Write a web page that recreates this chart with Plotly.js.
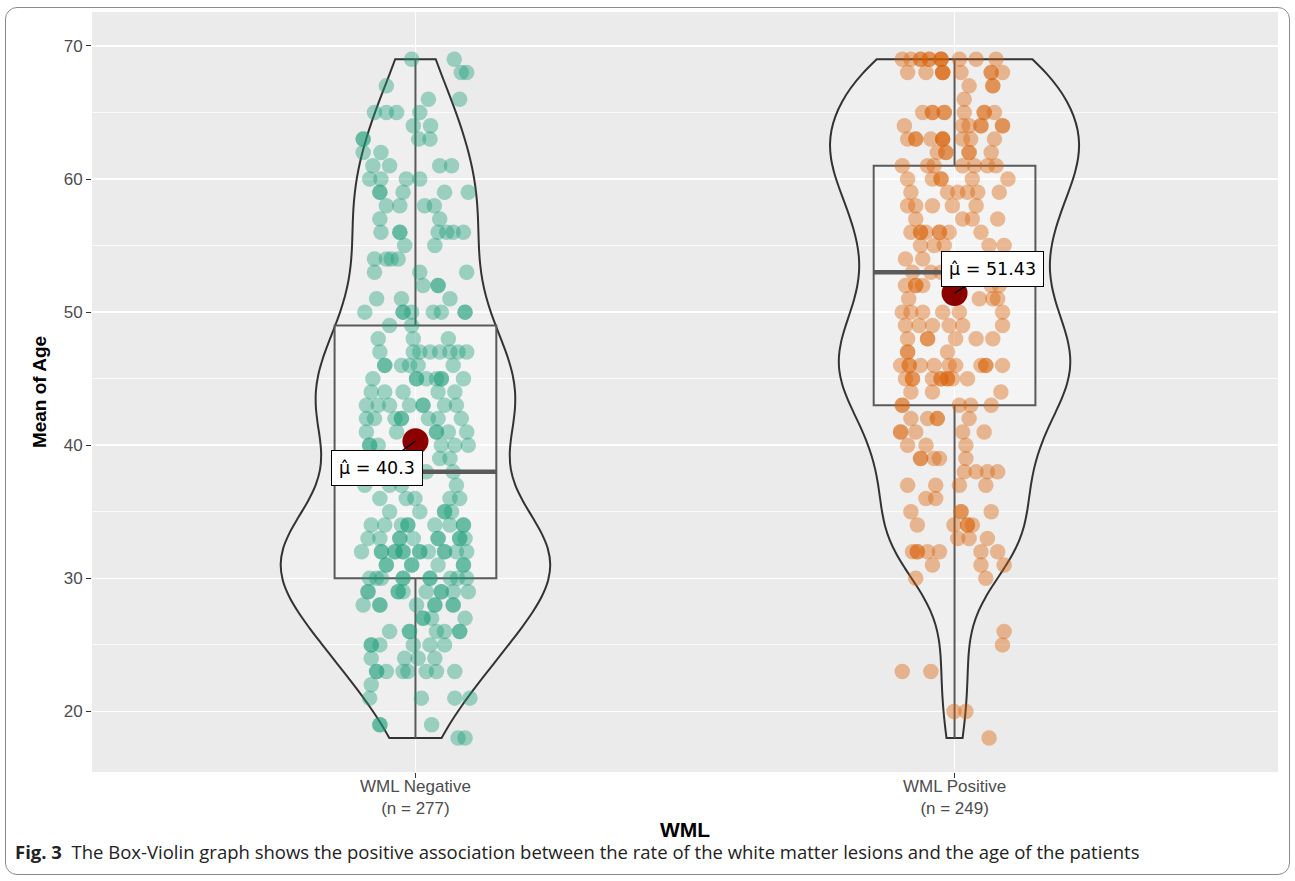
<!DOCTYPE html>
<html>
<head>
<meta charset="utf-8">
<script src="https://cdn.plot.ly/plotly-3.0.1.min.js"></script>
<style>
  html, body { margin: 0; padding: 0; background: #ffffff; }
  #wrap { position: relative; width: 1295px; height: 881px; }
  #chart { width: 1295px; height: 881px; }
  #frame { position: absolute; left: 5px; top: 7px; width: 1283px; height: 866px;
           border: 1px solid #8a8a8a; border-radius: 12px; pointer-events: none; }
</style>
</head>
<body>
<div id="wrap">
  <div id="chart"></div>
  <div id="frame"></div>
</div>
<script>
// ---------------- data ----------------
const categories = ["WML Negative", "WML Positive"];
const nLabels = ["(n = 277)", "(n = 249)"];
const xTitle = "WML";
const yTitle = "Mean of Age";

// WML Negative: age values and horizontal jitter offsets
const negAge = [
  69,69, 68,68, 67, 66,66, 65,65,65,65, 64,64, 63,63,63,63, 62,62, 61,61,61,61, 60,60,60,60,
  59,59,59,59,59, 58,58,58,58, 57,57, 56,56,56,56,56,56,56, 55,55, 54,54,54,54, 53,53,53,
  52,52,52, 51,51,51, 50,50,50,50,50,50,50,50, 49,49, 48,48,48,
  47,47,47,47,47,47,47,47, 46,46,46,46,46,46, 45,45,45,45,45,45,45,45, 44,44,44,44,44,
  43,43,43,43,43,43,43,43, 42,42,42,42,42,42,42,42, 41,41,41,41,41,41, 40,40,40,40,40,40,
  39,39,39,39, 38,38, 37,37,37,37, 36,36,36,36,36, 35,35,35,35,35,
  34,34,34,34,34,34,34,34,34, 33,33,33,33,33,33,33,33,33,33,
  32,32,32,32,32,32,32,32,32,32,32,32,32,32, 31,31,31,31,31,31,31, 30,30,30,30,30,30,30,30,30,30,
  29,29,29,29,29,29,29,29,29,29, 28,28,28,28,28,28,28,28, 27,27,27,27, 26,26,26,26,26,26,26,
  25,25,25,25,25,25, 24,24,24,24, 23,23,23,23,23,23,23,23, 22, 21,21,21,21, 19,19,19, 18,18
];
const negJit = [
  -0.007,0.072, 0.085,0.095, -0.054, 0.024,0.082, -0.076,-0.054,-0.035,0.008, -0.004,0.028,
  -0.097,-0.097,0.006,0.027, -0.097,-0.064, -0.079,-0.048,0.045,0.067, -0.085,-0.064,-0.017,0.008,
  -0.066,-0.066,-0.023,0.054,0.098, -0.054,-0.029,0.017,0.035, -0.066,0.045,
  -0.064,-0.029,-0.029,0.042,0.058,0.070,0.089, -0.020,0.036, -0.076,-0.054,-0.045,-0.032,
  -0.076,0.008,0.095, 0.014,0.042,0.042, -0.072,-0.026,0.064,
  -0.094,-0.023,-0.023,-0.007,0.033,0.048,0.092,0.092, -0.048,-0.007, -0.069,-0.004,0.061,
  -0.066,-0.004,0.008,0.027,0.045,0.064,0.079,0.095, -0.057,-0.057,-0.026,-0.011,0.005,0.070,
  -0.079,0.002,0.002,0.020,0.039,0.048,0.048,0.089, -0.082,-0.057,-0.023,0.042,0.073,
  -0.091,-0.069,-0.048,-0.011,0.014,0.014,0.054,0.076, -0.091,-0.076,-0.038,-0.026,-0.026,0.024,0.042,0.085,
  -0.091,-0.035,0.039,0.039,0.061,0.095, -0.085,-0.085,-0.069,0.048,0.073,0.098,
  -0.060,-0.030,0.045,0.064, 0.020,0.070, -0.094,-0.048,-0.026,0.076, -0.066,-0.017,-0.001,0.064,0.082,
  -0.048,0.008,0.054,0.054,0.067,
  -0.082,-0.057,-0.026,-0.014,-0.014,0.036,0.064,0.089,0.089,
  -0.088,-0.066,-0.029,-0.029,-0.004,0.042,0.042,0.082,0.082,0.092,
  -0.100,-0.063,-0.063,-0.038,-0.038,-0.023,-0.023,0.008,0.008,0.024,0.054,0.054,0.076,0.095,
  -0.054,-0.054,-0.007,-0.007,0.042,0.089,0.089,
  -0.085,-0.072,-0.063,-0.023,-0.023,0.027,0.027,0.065,0.078,0.095,
  -0.088,-0.088,-0.032,-0.032,-0.023,0.020,0.048,0.048,0.070,0.098,
  -0.097,-0.066,-0.066,0.002,0.036,0.036,0.070,0.070,
  0.014,0.014,0.030,0.092, -0.048,-0.011,-0.011,0.039,0.054,0.082,0.082,
  -0.082,-0.082,-0.066,-0.004,0.027,0.054, -0.082,-0.020,0.005,0.036,
  -0.072,-0.072,-0.054,-0.023,-0.014,0.020,0.039,0.073, -0.082, -0.085,0.011,0.073,0.101,
  -0.066,-0.066,0.030, 0.079,0.092
];

// WML Positive
const posAge = [
  69,69,69,69,69,69,69,69,69,69,69,69, 68,68,68,68,68,68,68,68,68, 67,67,67, 66,
  65,65,65,65,65,65,65,65,65, 64,64,64,64,64,64,64, 63,63,63,63,63,63,63,63,63,63,
  62,62,62,62,62,62, 61,61,61,61,61,61,61, 60,60,60,60,60,60, 59,59,59,59,59,59,
  58,58,58,58,58, 57,57,57,57, 56,56,56,56,56,56,56,56, 55,55,55,55,55, 54,54, 53,53,53,53,
  52,52,52,52,52,52, 51,51,51,51, 50,50,50,50,50,50, 49,49,49,49,49,49, 48,48,48,48,48,48,
  47,47,47, 46,46,46,46,46,46,46,46,46,46,46, 45,45,45,45,45,45,45,45,45,45, 44,44,44,
  43,43,43,43,43, 42,42,42,42,42, 41,41,41,41,41, 40,40,40, 39,39,39,39,39, 38,38,38,38,
  37,37,37,37, 36,36, 35,35,35,35, 34,34,34,34,34, 33,33,33, 32,32,32,32,32,32,32,
  31,31,31, 30,30, 26, 25, 23,23, 20,20, 18
];
const posJit = [
  -0.097,-0.081,-0.063,-0.063,-0.047,-0.047,-0.025,-0.025,-0.025,0.009,0.040,0.077,
  -0.087,-0.053,-0.022,-0.022,-0.022,0.012,0.068,0.068,0.089, 0.027,0.071,0.071, 0.018,
  -0.059,-0.041,-0.041,-0.019,-0.019,0.018,0.055,0.055,0.074, -0.093,0.015,0.027,0.049,0.049,0.089,0.089,
  -0.087,-0.072,-0.072,-0.044,-0.022,-0.022,-0.022,0.015,0.030,0.074,
  -0.032,-0.016,-0.016,0.027,0.027,0.068, -0.097,-0.050,-0.038,0.015,0.037,0.061,0.077,
  -0.087,-0.041,-0.025,-0.025,0.033,0.099, -0.081,-0.013,0.006,0.024,0.043,0.083,
  -0.087,-0.072,-0.041,-0.004,0.040, -0.072,0.015,0.033,0.080,
  -0.081,-0.063,-0.063,-0.053,-0.028,-0.028,-0.010,0.049, -0.063,-0.038,-0.019,0.064,0.092,
  -0.091,-0.059, -0.078,-0.044,-0.025,0.070, -0.091,-0.072,-0.072,-0.059,0.068,0.083,
  -0.085,0.046,0.071,0.080, -0.097,-0.081,-0.059,-0.022,0.009,0.089,
  -0.091,-0.066,-0.041,-0.010,0.015,0.089, -0.087,-0.050,-0.050,0.002,0.040,0.071,
  -0.087,-0.087,-0.013, -0.100,-0.084,-0.084,-0.063,-0.038,-0.010,0.002,0.049,0.058,0.058,0.089,
  -0.091,-0.078,-0.078,-0.041,-0.025,-0.025,-0.013,-0.013,-0.004,0.024, -0.081,-0.041,0.086,
  -0.097,-0.097,0.009,0.030,0.068, -0.081,-0.050,-0.032,-0.032,0.027, -0.100,-0.100,-0.072,0.015,0.055,
  -0.087,-0.053,0.021, -0.063,-0.063,-0.038,-0.028,0.021, 0.018,0.040,0.061,0.080,
  -0.087,-0.035,0.009,0.058, -0.053,-0.035, -0.081,0.012,0.012,0.068, -0.069,-0.001,0.024,0.024,0.033,
  0.006,0.027,0.061, -0.078,-0.069,-0.069,-0.050,-0.028,0.049,0.080,
  -0.041,0.049,0.092, -0.072,0.058, 0.092, 0.089, -0.097,-0.044, -0.001,0.021, 0.064
];

// box statistics
const boxLow    = [18, 18];
const boxQ1     = [30, 43];
const boxMedian = [38, 53];
const boxQ3     = [49, 61];
const boxHigh   = [69, 69];
const means     = [40.3, 51.43];
const meanLabels = ["μ̂ = 40.3", "μ̂ = 51.43"];
const yTicks = [20, 30, 40, 50, 60, 70];
const yMinor = [25, 35, 45, 55, 65];
const caption = "<b>Fig. 3</b>  The Box-Violin graph shows the positive association between the rate of the white matter lesions and the age of the patients";

// ---------------- styles ----------------
const pos = [1, 2];
const pointColors = ["rgba(27,158,119,0.40)", "rgba(217,95,2,0.40)"];
const boxHalf = 0.15;
const FONT = "Liberation Sans, Arial, sans-serif";
const PLOT_T = 12, PLOT_B = 772, PLOT_L = 92, PLOT_W = 1186;
const pyPaper = px => (PLOT_B - px) / (PLOT_B - PLOT_T);
const pxPaper = px => (px - PLOT_L) / PLOT_W;

const traces = [];
const groups = [
  {age: negAge, jit: negJit, bw: 3.6, width: 0.5},
  {age: posAge, jit: posJit, bw: 3.2, width: 0.462}
];

groups.forEach((g, i) => {
  traces.push({
    type: "violin", x: g.age.map(() => pos[i]), y: g.age,
    spanmode: "hard", bandwidth: g.bw, width: g.width, scalemode: "width",
    points: false, box: {visible: false}, meanline: {visible: false},
    line: {color: "#333333", width: 2}, fillcolor: "rgba(255,255,255,0.22)",
    hoverinfo: "skip", showlegend: false
  });
});

groups.forEach((g, i) => {
  traces.push({
    type: "box", x: [pos[i]], q1: [boxQ1[i]], median: [boxMedian[i]], q3: [boxQ3[i]],
    lowerfence: [boxLow[i]], upperfence: [boxHigh[i]],
    width: 2 * boxHalf, whiskerwidth: 0, boxpoints: false,
    line: {color: "#5a5a5a", width: 2}, fillcolor: "rgba(255,255,255,0.30)",
    hoverinfo: "skip", showlegend: false
  });
});

groups.forEach((g, i) => {
  traces.push({
    type: "scatter", mode: "markers",
    x: g.jit.map(d => pos[i] + d), y: g.age,
    marker: {size: 15.5, color: pointColors[i], line: {width: 0}},
    hoverinfo: "skip", showlegend: false
  });
});

// thicker median bars
const medX = [], medY = [];
pos.forEach((p, i) => { medX.push(p - boxHalf, p + boxHalf, null); medY.push(boxMedian[i], boxMedian[i], null); });
traces.push({type: "scatter", mode: "lines", x: medX, y: medY,
  line: {color: "#5a5a5a", width: 4.5}, hoverinfo: "skip", showlegend: false});

// mean points
traces.push({type: "scatter", mode: "markers", x: pos, y: means,
  marker: {size: 26, color: "#8b0000"}, hoverinfo: "skip", showlegend: false});

const LABFONT = {family: "DejaVu Sans, Liberation Sans, sans-serif", size: 17.5, color: "#000"};
const annotations = [
  {x: pos[0], y: means[0], xref: "x", yref: "y", text: meanLabels[0],
   showarrow: true, arrowhead: 0, arrowwidth: 1.5, arrowcolor: "#000", ax: -38, ay: 27,
   bgcolor: "#ffffff", bordercolor: "#000000", borderwidth: 1, borderpad: 7, font: LABFONT},
  {x: pos[1], y: means[1], xref: "x", yref: "y", text: meanLabels[1],
   showarrow: true, arrowhead: 0, arrowwidth: 1.5, arrowcolor: "#000", ax: 38, ay: -24,
   bgcolor: "#ffffff", bordercolor: "#000000", borderwidth: 1, borderpad: 7, font: LABFONT}
];
// x tick labels (category + group size), drawn as two-line labels under the ticks
pos.forEach((p, i) => annotations.push({
  x: p, xref: "x", yref: "paper", y: pyPaper(797), yanchor: "middle", showarrow: false,
  text: categories[i] + "<br>" + nLabels[i], align: "center",
  font: {family: FONT, size: 17, color: "#4d4d4d"}
}));
// x axis title
annotations.push({
  x: 0.5, xref: "paper", yref: "paper", y: pyPaper(830), yanchor: "middle", showarrow: false,
  text: "<b>" + xTitle + "</b>", font: {family: FONT, size: 21, color: "#000"}
});
// caption
annotations.push({
  xref: "paper", yref: "paper", x: pxPaper(13), y: pyPaper(851),
  xanchor: "left", yanchor: "middle", showarrow: false, align: "left",
  text: caption, font: {family: "Open Sans, sans-serif", size: 18.5, color: "#222"}
});

const layout = {
  width: 1295, height: 881,
  margin: {l: PLOT_L, r: 1295 - PLOT_L - PLOT_W, t: PLOT_T, b: 881 - PLOT_B},
  paper_bgcolor: "#ffffff", plot_bgcolor: "#ebebeb",
  hovermode: false, showlegend: false,
  font: {family: FONT},
  xaxis: {
    range: [0.4, 2.6], tickmode: "array", tickvals: pos, showticklabels: false,
    showgrid: true, gridcolor: "#ffffff", gridwidth: 1.6, zeroline: false,
    ticks: "outside", ticklen: 5, tickwidth: 1, tickcolor: "#333",
    showline: false, fixedrange: true
  },
  yaxis: {
    range: [15.45, 72.55], tickmode: "array", tickvals: yTicks,
    showgrid: true, gridcolor: "#ffffff", gridwidth: 1.6, zeroline: false,
    minor: {tickmode: "array", tickvals: yMinor, showgrid: true, gridcolor: "#ffffff", gridwidth: 0.8, ticks: ""},
    ticks: "outside", ticklen: 5, tickwidth: 1, tickcolor: "#333",
    tickfont: {family: FONT, size: 17, color: "#4d4d4d"},
    title: {text: yTitle, font: {family: FONT, size: 19, color: "#000", weight: "bold"}, standoff: 12},
    showline: false, fixedrange: true
  },
  annotations: annotations
};

Plotly.newPlot("chart", traces, layout, {displayModeBar: false, staticPlot: true});
</script>
</body>
</html>
